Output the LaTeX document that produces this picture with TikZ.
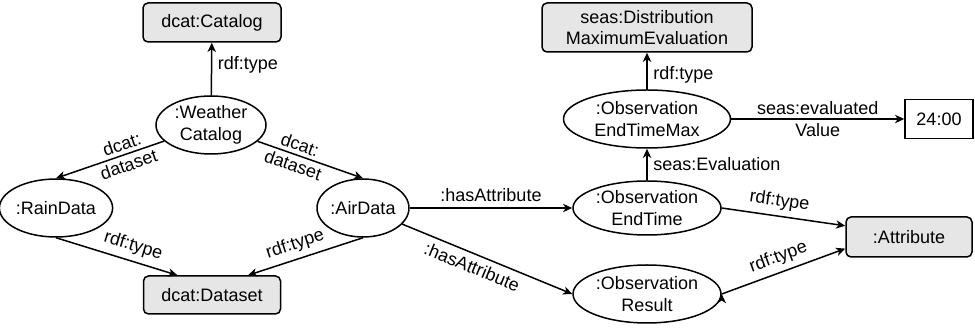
\documentclass[tikz,border=0pt]{standalone}
\usepackage{fontspec}
\setmainfont{Liberation Sans}
\usetikzlibrary{arrows.meta,calc,shapes.geometric}
\definecolor{classfill}{HTML}{E6E6E6}
\tikzset{
  >={Stealth[length=5.5pt,width=5pt,inset=1.6pt]},
  every node/.style={font=\fontsize{10.8pt}{12.8pt}\selectfont},
  resource/.style={ellipse, draw, line width=0.9pt, inner sep=0,
                   align=center, minimum height=34.8pt},
  class/.style={rectangle, draw, line width=0.9pt, rounded corners=3pt,
                fill=classfill, inner sep=0, align=center},
  literal/.style={rectangle, draw, line width=0.9pt, inner sep=0},
  prop/.style={draw, line width=0.9pt},
}
\begin{document}
\begin{tikzpicture}[x=0.6pt,y=-0.6pt]
\useasboundingbox (0,0) rectangle (975,329);
% catalog side
\node[class, minimum width=82.8pt, minimum height=23.4pt] (cat) at (212,22.5) {dcat:Catalog};
\node[resource, minimum width=66pt] (wc) at (211,125) {:Weather\\Catalog};
\node[resource, minimum width=58.2pt] (rain) at (56,208) {:RainData};
\node[resource, minimum width=52.8pt] (air) at (363,208) {:AirData};
\node[class, minimum width=82.2pt, minimum height=22.8pt] (ds) at (212,295) {dcat:Dataset};
% observation side
\node[class, minimum width=126pt, minimum height=29.4pt] (dist) at (647,27.5) {seas:Distribution\\MaximumEvaluation};
\node[resource, minimum width=100.2pt] (etm) at (647,119) {:Observation\\EndTimeMax};
\node[literal, minimum width=40.8pt, minimum height=23.4pt] (val) at (939,119) {24:00};
\node[resource, minimum width=88.8pt, minimum height=32.4pt] (et) at (647,208) {:Observation\\EndTime};
\node[resource, minimum width=88.8pt] (res) at (647,294) {:Observation\\Result};
\node[class, minimum width=75.6pt, minimum height=24pt] (attr) at (909,237) {:Attribute};

\coordinate (ds-l) at ($(ds.north west)!0.25!(ds.north east)$);
\coordinate (ds-r) at ($(ds.north west)!0.76!(ds.north east)$);
\coordinate (attr-t) at ($(attr.north west)!0.23!(attr.south west)$);
\coordinate (attr-b) at ($(attr.north west)!0.78!(attr.south west)$);

\path[prop,->] (wc) edge node[right,pos=.57] {rdf:type} (cat)
               (wc) edge node[sloped,align=center,pos=.36] {dcat:\\dataset} (rain.north)
               (wc) edge node[sloped,align=center,pos=.37] {dcat:\\dataset} (air.north)
          (rain.south) edge node[above,sloped,pos=.6] {rdf:type} (ds-l)
           (air.south) edge node[above,sloped,pos=.55] {rdf:type} (ds-r)
                 (air) edge node[above] {:hasAttribute} (et)
                 (air) edge node[below,sloped,pos=.44] {:hasAttribute} (res.west)
            (et.north) edge node[right] {seas:Evaluation} (etm.south)
           (etm.north) edge node[right,pos=.4] {rdf:type} (dist.south)
            (etm.east) edge node[align=center] {seas:evaluated\\Value} (val.west)
             (et.east) edge node[above,sloped,pos=.45] {rdf:type} (attr-t)
            (res.east) edge node[above,sloped] {rdf:type} (attr-b);
\end{tikzpicture}
\end{document}
